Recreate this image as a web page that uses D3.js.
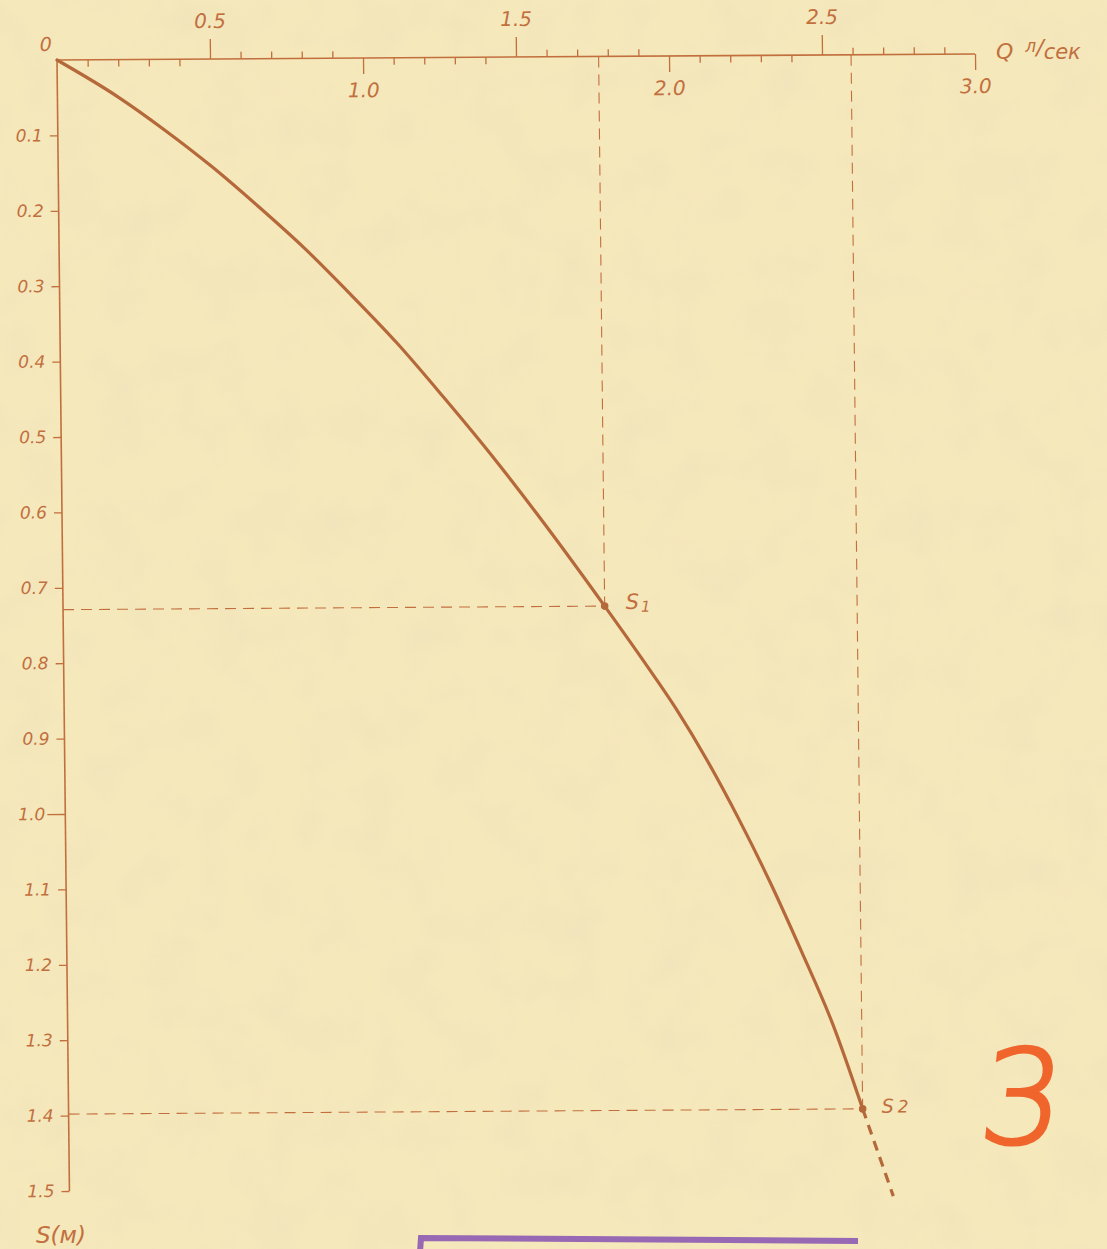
<!DOCTYPE html>
<html>
<head>
<meta charset="utf-8">
<script src="https://cdn.jsdelivr.net/npm/d3@7"></script>
<style>
  html, body { margin: 0; padding: 0; background: #f4e6b8; }
  svg { display: block; }
  .lbl { font-family: "DejaVu Sans", sans-serif; font-style: italic; fill: #c26f3e; }
</style>
</head>
<body>
<div id="chart"></div>
<script>
// ---- data ----
const qValues = [0, 0.20, 0.35, 0.50, 0.65, 0.80, 0.95, 1.10, 1.25, 1.40, 1.55, 1.77, 1.90, 2.00, 2.10, 2.20, 2.30, 2.40, 2.50, 2.595];
const sValues = [0, 0.050, 0.094, 0.142, 0.195, 0.251, 0.313, 0.378, 0.450, 0.525, 0.605, 0.729, 0.805, 0.866, 0.935, 1.012, 1.096, 1.188, 1.285, 1.398];
const qExtension = [2.595, 2.692];
const sExtension = [1.398, 1.514];
const markNames = ["1", "2"];
const markQ = [1.770, 2.595];
const markS = [0.729, 1.398];
const xMajorUp = [0.5, 1.5, 2.5];
const xMajorDown = [1.0, 2.0, 3.0];
const xMinorUp = [0.6, 0.7, 0.8, 0.9, 1.6, 1.7, 1.8, 1.9, 2.6, 2.7, 2.8, 2.9];
const xMinorDown = [0.1, 0.2, 0.3, 0.4, 1.1, 1.2, 1.3, 1.4, 2.1, 2.2, 2.3, 2.4];
const yTicks = [0.1, 0.2, 0.3, 0.4, 0.5, 0.6, 0.7, 0.8, 0.9, 1.0, 1.1, 1.2, 1.3, 1.4, 1.5];

const W = 1107, H = 1249;
const axisColor = "#c26f3e";
const curveColor = "#b5693b";

const svg = d3.select("#chart").append("svg").attr("width", W).attr("height", H);

// paper background with faint mottling
const defs = svg.append("defs");
const f = defs.append("filter").attr("id", "paper").attr("x", 0).attr("y", 0).attr("width", "100%").attr("height", "100%");
f.append("feTurbulence").attr("type", "fractalNoise").attr("baseFrequency", 0.02).attr("numOctaves", 3).attr("seed", 7).attr("result", "n");
f.append("feColorMatrix").attr("in", "n").attr("type", "matrix")
  .attr("values", "0 0 0 0 0.80  0 0 0 0 0.68  0 0 0 0 0.50  0 0 0 -1.4 0.75");
svg.append("rect").attr("width", W).attr("height", H).attr("fill", "#f5e8bb");
svg.append("rect").attr("width", W).attr("height", H).attr("filter", "url(#paper)").attr("opacity", 0.35);

const x = d3.scaleLinear().domain([0, 3]).range([0, 918]);
const y = d3.scaleLinear().domain([0, 1.5]).range([0, 1131]);
const fmt = d3.format(".1f");

// slightly skewed like the scanned sheet
const g = svg.append("g").attr("transform", "matrix(1,-0.0066,0.011,1,57,60)");

function styleAxis(sel, fontSize) {
  sel.select(".domain").remove();
  sel.selectAll(".tick line").attr("stroke", axisColor).attr("stroke-width", 1.3);
  sel.selectAll(".tick text").attr("class", "lbl").attr("font-size", fontSize).attr("fill", axisColor);
}

// top axis line
g.append("line").attr("x1", x(0)).attr("x2", x(3)).attr("y1", 0).attr("y2", 0)
  .attr("stroke", axisColor).attr("stroke-width", 1.6);
g.append("g").call(d3.axisTop(x).tickValues(xMinorUp).tickSize(7).tickFormat("")).call(s => styleAxis(s, 20));
g.append("g").call(d3.axisBottom(x).tickValues(xMinorDown).tickSize(7).tickFormat("")).call(s => styleAxis(s, 20));
g.append("g").call(d3.axisTop(x).tickValues(xMajorUp).tickSize(20).tickPadding(11).tickFormat(fmt)).call(s => styleAxis(s, 20));
g.append("g").call(d3.axisBottom(x).tickValues(xMajorDown).tickSize(16).tickPadding(9).tickFormat(fmt)).call(s => styleAxis(s, 20));

// left axis
g.append("line").attr("x1", 0).attr("x2", 0).attr("y1", y(0)).attr("y2", y(1.5))
  .attr("stroke", axisColor).attr("stroke-width", 1.6);
const yAx = g.append("g").call(d3.axisLeft(y).tickValues(yTicks).tickSize(8).tickPadding(7).tickFormat(fmt)).call(s => styleAxis(s, 17));
yAx.selectAll(".tick").filter(d => d === 1.0).select("line").attr("x2", -18);
yAx.selectAll(".tick").filter(d => d === 1.0).select("text").attr("x", -20);

// origin label
g.append("text").attr("class", "lbl").attr("x", -5).attr("y", -9).attr("text-anchor", "end")
  .attr("font-size", 19).text("0");

// dashed projection lines
markQ.forEach((q, i) => {
  g.append("line").attr("x1", x(0)).attr("x2", x(q)).attr("y1", y(markS[i])).attr("y2", y(markS[i]))
    .attr("stroke", axisColor).attr("stroke-width", 1.1).attr("stroke-dasharray", "11,7");
  g.append("line").attr("x1", x(q)).attr("x2", x(q)).attr("y1", y(0)).attr("y2", y(markS[i]))
    .attr("stroke", axisColor).attr("stroke-width", 1.1).attr("stroke-dasharray", "11,7");
});

// curve
const pts = qValues.map((q, i) => [q, sValues[i]]);
const line = d3.line().x(d => x(d[0])).y(d => y(d[1])).curve(d3.curveMonotoneX);
g.append("path").attr("d", line(pts)).attr("fill", "none").attr("stroke", curveColor)
  .attr("stroke-width", 3.2).attr("stroke-linecap", "round");
const ext = qExtension.map((q, i) => [q, sExtension[i]]);
g.append("path").attr("d", d3.line().x(d => x(d[0])).y(d => y(d[1]))(ext)).attr("fill", "none")
  .attr("stroke", curveColor).attr("stroke-width", 3.2).attr("stroke-dasharray", "10,7");

// marked points
markQ.forEach((q, i) => {
  g.append("circle").attr("cx", x(q)).attr("cy", y(markS[i])).attr("r", 3.8).attr("fill", curveColor);
});
const s1 = g.append("text").attr("class", "lbl").attr("x", x(markQ[0]) + 21).attr("y", y(markS[0]) + 3).attr("font-size", 21);
s1.append("tspan").text("S");
s1.append("tspan").attr("font-size", 15).attr("dx", 2).attr("dy", 3).text(markNames[0]);
const s2 = g.append("text").attr("class", "lbl").attr("x", x(markQ[1]) + 19).attr("y", y(markS[1]) + 4).attr("font-size", 19);
s2.append("tspan").text("S");
s2.append("tspan").attr("font-size", 17).attr("dx", 4).text(markNames[1]);

// axis titles (screen coordinates)
const qt = svg.append("text").attr("class", "lbl").attr("x", 996).attr("y", 59).attr("font-size", 22);
qt.append("tspan").text("Q");
qt.append("tspan").attr("dx", 12).attr("dy", -7).attr("font-size", 17).text("л");
qt.append("tspan").attr("dy", 3).attr("font-size", 22).text("/");
qt.append("tspan").attr("dy", 4).attr("font-size", 21).text("сек");

svg.append("text").attr("class", "lbl").attr("x", 36).attr("y", 1243).attr("font-size", 23).text("S(м)");

// sheet number
svg.append("text").attr("x", 1020).attr("y", 1143).attr("text-anchor", "middle")
  .attr("font-family", "DejaVu Sans").attr("font-weight", 200).attr("font-size", 130)
  .attr("fill", "#f0652c").attr("stroke", "#f0652c").attr("stroke-width", 3.5)
  .attr("transform", "skewX(-6)").attr("dx", 118).text("3");

// purple stamp frame at the bottom
svg.append("polyline").attr("points", "420,1252 421,1238 858,1241")
  .attr("fill", "none").attr("stroke", "#8d5ab3").attr("stroke-width", 6).attr("opacity", 0.9);
</script>
</body>
</html>
